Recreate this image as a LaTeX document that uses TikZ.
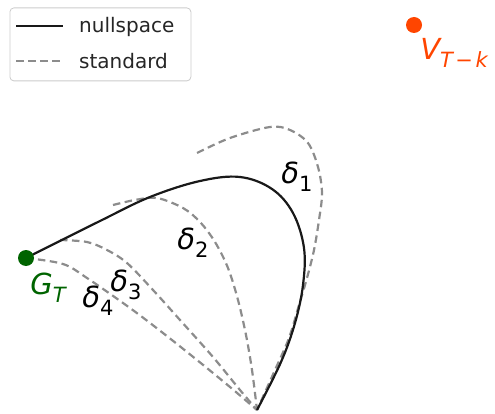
\documentclass[tikz,border=0pt]{standalone}
\usepackage{fontspec}
\setmainfont{DejaVu Sans}
\definecolor{gcol}{RGB}{0,100,0}
\definecolor{vcol}{RGB}{255,69,0}
\definecolor{dashgray}{RGB}{140,140,140}
\definecolor{txtcol}{RGB}{38,38,38}
\newcommand{\symb}[2]{{\itshape #1}\raisebox{-0.28em}{\fontsize{21}{21}\selectfont #2}}
\begin{document}
\begin{tikzpicture}[
    x=1pt, y=-1pt,
    pointdot/.style={circle, inner sep=0pt, minimum size=16pt},
    nullcurve/.style={line width=2.2pt, draw=black!90},
    stdcurve/.style={line width=2.2pt, draw=dashgray, dash pattern=on 7.5pt off 4.5pt},
    lbl/.style={inner sep=0pt, font=\fontsize{29}{32}\selectfont},
    legtext/.style={inner sep=0pt, anchor=west, text=txtcol, font=\fontsize{20}{24}\selectfont},
    legendbox/.style={draw=black!20, fill=white, rounded corners=4pt, line width=0.8pt}
]
\useasboundingbox (0,0) rectangle (495,414);
\coordinate (gt) at (26,258);
\coordinate (bot) at (257,410);
% standard (dashed) paths
\draw[stdcurve] plot[smooth, tension=0.55] coordinates {(197,153) (230,138) (270,127) (290,130) (308,143) (318,167) (322,193) (319,220) (314,250) (307,278) (299,305) (289,338) (275,370) (bot)};
\draw[stdcurve] plot[smooth, tension=0.55] coordinates {(113,205) (135,200) (157,198) (183,208) (200,222) (215,242) (228,268) (238,300) (246,335) (252,370) (bot)};
\draw[stdcurve] plot[smooth, tension=0.55] coordinates {(60,240) (87,242) (107,250) (127,263) (153,290) (180,320) (213,357) (240,390) (bot)};
\draw[stdcurve] plot[smooth, tension=0.55] coordinates {(gt) (63,264) (87,278) (130,308) (163,333) (197,360) (230,387) (bot)};
% nullspace path
\draw[nullcurve] plot[smooth, tension=0.6] coordinates {(gt) (100,221) (150,197) (200,181) (240,177) (272,189) (293,213) (304,248) (303,285) (295,323) (281,362) (bot)};
% points
\node[pointdot, fill=gcol] (gdot) at (gt) {};
\node[pointdot, fill=vcol] (vdot) at (414,25) {};
\node[lbl, text=gcol] (glabel) at (48,288) {\symb{G}{\itshape T}};
\node[lbl, text=vcol] (vlabel) at (454,53) {\symb{V}{{\itshape T}\hspace{0.12em}−\hspace{0.12em}{\itshape k}}};
\node[lbl] (d1) at (297,177) {\symb{δ}{1}};
\node[lbl] (d2) at (193,243) {\symb{δ}{2}};
\node[lbl] (d3) at (126,285) {\symb{δ}{3}};
\node[lbl] (d4) at (98,301) {\symb{δ}{4}};
% legend
\node[legendbox, anchor=north west, minimum width=181pt, minimum height=73pt] (legend) at (9.5,7.5) {};
\coordinate (la) at (16,26);
\coordinate (lb) at (63,26);
\coordinate (lc) at (16,61);
\coordinate (ld) at (63,61);
\draw[nullcurve] (la) -- (lb);
\draw[stdcurve] (lc) -- (ld);
\node[legtext] (lnull) at (79,27) {nullspace};
\node[legtext] (lstd) at (79,61) {standard};
\end{tikzpicture}
\end{document}
